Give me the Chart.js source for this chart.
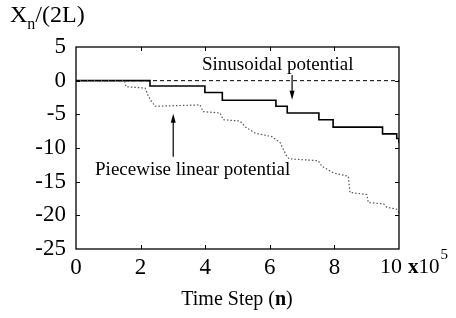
<!DOCTYPE html>
<html>
<head>
<meta charset="utf-8">
<script src="https://cdn.jsdelivr.net/npm/chart.js@4.4.1/dist/chart.umd.min.js"></script>
<style>
  html, body { margin: 0; padding: 0; background: #fff; }
  #wrap { width: 456px; height: 318px; }
</style>
</head>
<body>
<div id="wrap"><canvas id="chart" width="456" height="318"></canvas></div>
<script>
// values (x in units of 1e5 time steps)
const sinX = [0, 2.29, 3.99, 4.53, 6.19, 6.54, 7.52, 7.96, 9.49, 9.93, 10];
const sinY = [0, -0.8, -1.75, -2.9, -3.8, -4.8, -5.8, -6.9, -7.9, -8.6, -9.3];

const pwlX = [0, 1.5, 1.55, 2.14, 2.24, 2.34, 2.45, 3.84, 3.94, 4.46, 4.56, 5.08, 5.25, 5.55, 6.06, 6.32, 6.52, 6.6, 7.5, 7.61, 7.97, 8.43, 8.48, 9.0, 9.05, 9.52, 9.62, 9.93, 10];
const pwlY = [0, 0, -0.9, -1.1, -2.3, -3.1, -3.8, -3.6, -4.6, -4.8, -5.8, -6.0, -6.9, -7.8, -8.3, -9.2, -11.2, -11.6, -11.9, -12.7, -13.7, -14.2, -16.6, -16.9, -18.1, -18.3, -18.8, -19.1, -19.6];

const refX = [0, 10];
const refY = [0, 0];

const xTicks = [0, 2, 4, 6, 8, 10];
const yTicks = [5, 0, -5, -10, -15, -20, -25];

const toPts = (xs, ys) => xs.map((x, i) => ({ x: x, y: ys[i] }));
const SERIF = "'Liberation Serif', 'Times New Roman', serif";

// frame, inner ticks, labels and arrows
const decor = {
    id: 'decor',
    afterDraw(chart) {
        const ctx = chart.ctx;
        const a = chart.chartArea;
        const xs = chart.scales.x, ys = chart.scales.y;
        ctx.save();
        ctx.strokeStyle = '#000';
        ctx.lineWidth = 1.3;
        ctx.strokeRect(a.left, a.top, a.right - a.left, a.bottom - a.top);

        ctx.lineWidth = 1;
        ctx.beginPath();
        xTicks.slice(1, -1).forEach(v => {
            const px = Math.round(xs.getPixelForValue(v)) + 0.5;
            ctx.moveTo(px, a.bottom); ctx.lineTo(px, a.bottom - 4);
            ctx.moveTo(px, a.top); ctx.lineTo(px, a.top + 4);
        });
        yTicks.slice(1, -1).forEach(v => {
            const py = Math.round(ys.getPixelForValue(v)) + 0.5;
            ctx.moveTo(a.left, py); ctx.lineTo(a.left + 4, py);
            ctx.moveTo(a.right, py); ctx.lineTo(a.right - 4, py);
        });
        ctx.stroke();

        ctx.fillStyle = '#000';
        ctx.textBaseline = 'alphabetic';
        ctx.textAlign = 'left';

        // y title
        ctx.font = '24px ' + SERIF;
        ctx.fillText('X', 10, 22);
        let w = ctx.measureText('X').width;
        ctx.font = '16px ' + SERIF;
        ctx.fillText('n', 10 + w, 29);
        const wn = ctx.measureText('n').width;
        ctx.font = '24px ' + SERIF;
        ctx.fillText('/(2L)', 10 + w + wn, 22);

        // x title
        const t1 = 'Time Step (';
        ctx.font = '20px ' + SERIF;
        const w1 = ctx.measureText(t1).width;
        ctx.font = 'bold 20px ' + SERIF;
        const w2 = ctx.measureText('n').width;
        ctx.font = '20px ' + SERIF;
        const w3 = ctx.measureText(')').width;
        let x0 = 237 - (w1 + w2 + w3) / 2;
        ctx.fillText(t1, x0, 305);
        ctx.font = 'bold 20px ' + SERIF;
        ctx.fillText('n', x0 + w1, 305);
        ctx.font = '20px ' + SERIF;
        ctx.fillText(')', x0 + w1 + w2, 305);

        // last x tick label and x10^5
        ctx.font = '22px ' + SERIF;
        ctx.textAlign = 'center';
        ctx.fillText(String(xTicks[xTicks.length - 1]), xs.getPixelForValue(10) - 8, 273);
        ctx.textAlign = 'left';
        ctx.font = 'bold 21px ' + SERIF;
        ctx.fillText('x', 408, 273);
        const wx = ctx.measureText('x').width;
        ctx.font = '21px ' + SERIF;
        ctx.fillText('10', 408 + wx, 273);
        const w10 = ctx.measureText('10').width;
        ctx.font = '15px ' + SERIF;
        ctx.fillText('5', 409 + wx + w10, 259);

        // annotations
        ctx.font = '19px ' + SERIF;
        ctx.textBaseline = 'middle';
        ctx.fillText('Sinusoidal potential', xs.getPixelForValue(3.9), ys.getPixelForValue(2.3));
        ctx.fillText('Piecewise linear potential', xs.getPixelForValue(0.59), ys.getPixelForValue(-13.3));

        const arrow = (xv, y1, y2) => {
            const px = xs.getPixelForValue(xv);
            const pa = ys.getPixelForValue(y1), pb = ys.getPixelForValue(y2);
            const dir = pb > pa ? 1 : -1;
            ctx.beginPath();
            ctx.lineWidth = 1.2;
            ctx.moveTo(px, pa); ctx.lineTo(px, pb - dir * 6);
            ctx.stroke();
            ctx.beginPath();
            ctx.moveTo(px, pb);
            ctx.lineTo(px - 2.5, pb - dir * 9);
            ctx.lineTo(px + 2.5, pb - dir * 9);
            ctx.closePath();
            ctx.fill();
        };
        arrow(6.69, 0.86, -2.84);
        arrow(3.01, -11.3, -4.9);
        ctx.restore();
    }
};

new Chart(document.getElementById('chart'), {
    type: 'scatter',
    data: {
        datasets: [
            {
                label: 'reference',
                data: toPts(refX, refY),
                showLine: true,
                borderColor: '#000',
                borderWidth: 1,
                borderDash: [4, 3],
                pointRadius: 0
            },
            {
                label: 'Piecewise linear potential',
                data: toPts(pwlX, pwlY),
                showLine: true,
                borderColor: '#555',
                borderWidth: 1.2,
                borderDash: [1.5, 2],
                pointRadius: 0
            },
            {
                label: 'Sinusoidal potential',
                data: toPts(sinX, sinY),
                showLine: true,
                stepped: true,
                borderColor: '#000',
                borderWidth: 1.6,
                pointRadius: 0
            }
        ]
    },
    options: {
        responsive: false,
        animation: false,
        layout: { padding: { top: 47, right: 57, left: 0, bottom: 0 } },
        plugins: { legend: { display: false }, tooltip: { enabled: false } },
        scales: {
            x: {
                type: 'linear',
                min: 0, max: 10,
                afterFit: s => { s.height = 69; },
                afterBuildTicks: s => { s.ticks = xTicks.map(v => ({ value: v })); },
                grid: { display: false, drawTicks: false },
                border: { display: false },
                ticks: {
                    color: '#000', padding: 5, maxRotation: 0,
                    font: { family: SERIF, size: 23 },
                    callback: v => (v === 10 ? '' : String(v))
                }
            },
            y: {
                type: 'linear',
                min: -25, max: 5,
                afterFit: s => { s.width = 76; },
                afterBuildTicks: s => { s.ticks = yTicks.map(v => ({ value: v })); },
                grid: { display: false, drawTicks: false },
                border: { display: false },
                ticks: { color: '#000', padding: 10, font: { family: SERIF, size: 23 } }
            }
        }
    },
    plugins: [decor]
});
</script>
</body>
</html>
